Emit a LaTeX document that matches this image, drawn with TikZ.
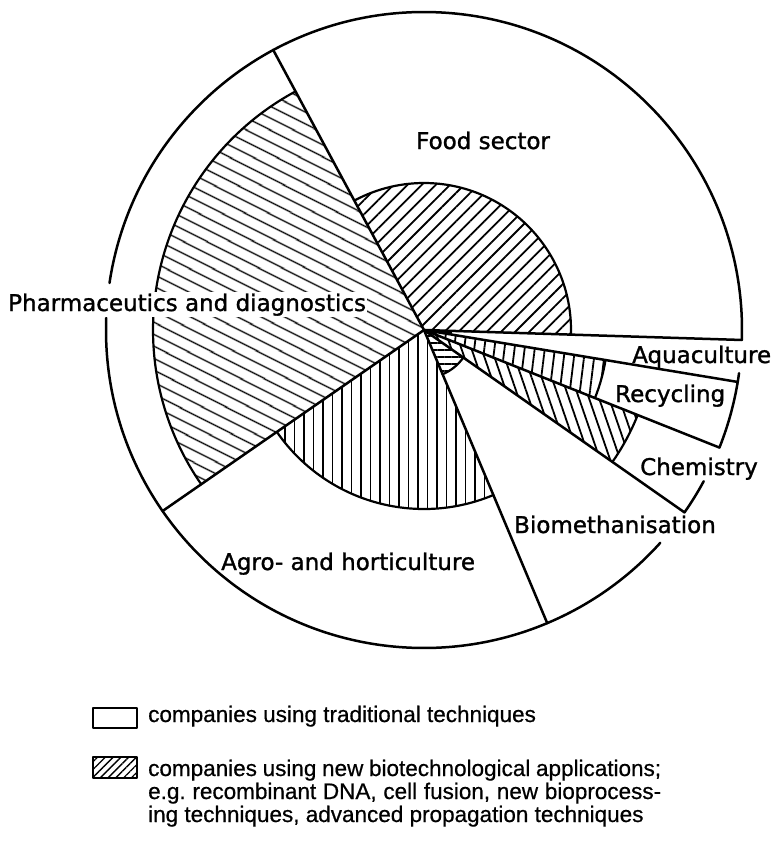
\documentclass[tikz,border=0pt]{standalone}
\usepackage{fontspec}
\setmainfont{DejaVu Sans}
\newfontfamily\lblfont[FakeBold=1.3]{DejaVu Sans}
\newfontfamily\legendfont[FakeBold=0.6]{Liberation Sans}
\usetikzlibrary{patterns.meta,calc}
\newcommand\hsector[4]{%
  \fill[pattern={#4}] (C) -- ($(C)+(#1:#3pt)$) arc[start angle=#1, end angle=#2, radius=#3pt] -- cycle;
  \draw[hatchline] ($(C)+(#1:#3pt)$) arc[start angle=#1, end angle=#2, radius=#3pt];
}
\begin{document}
\begin{tikzpicture}[x=1pt,y=1pt, line join=round, line cap=round,
  bd/.style={line width=2.5pt},
  hatchline/.style={line width=2.2pt},
  lbl/.style={inner sep=0pt, anchor=base west, font=\lblfont\fontsize{23}{27}\selectfont},
  leg/.style={inner sep=0pt, anchor=base west, font=\legendfont\fontsize{22.5}{27}\selectfont\frenchspacing}]
\useasboundingbox (0,0) rectangle (774,-847);
\fill[white] (0,0) rectangle (774,-847);
\coordinate (C) at (424,-330);
\def\R{318}
% inner hatched sectors
\hsector{-1.8}{118.3}{147}{Lines[angle=45,distance=10pt,line width=1.8pt]}
\hsector{118.3}{214.7}{271}{Lines[angle=-27,distance=10.5pt,line width=1.8pt]}
\hsector{214.7}{292.8}{179}{Lines[angle=90,distance=9.5pt,line width=1.8pt]}
\hsector{292.8}{325}{48}{Lines[angle=0,distance=7pt,line width=1.8pt]}
\hsector{325}{338.3}{230}{Lines[angle=109,distance=9.5pt,line width=1.8pt]}
\hsector{338.3}{350.6}{184}{Lines[angle=83,distance=10pt,line width=1.8pt]}
\fill (C) -- ($(C)+(350.6:28pt)$) arc[start angle=350.6, end angle=358.2, radius=28pt] -- cycle;
% outer arcs (with gaps behind the labels)
\draw[bd] ($(C)+(-1.8:\R pt)$) arc[start angle=-1.8, end angle=171.5, radius=\R pt];
\draw[bd] ($(C)+(177.8:\R pt)$) arc[start angle=177.8, end angle=318, radius=\R pt];
\draw[bd] ($(C)+(325:\R pt)$) arc[start angle=325, end angle=331.6, radius=\R pt];
\draw[bd] ($(C)+(338.3:\R pt)$) arc[start angle=338.3, end angle=352.2, radius=\R pt];
% radial boundaries
\foreach \a/\n in {118.3/b1, -1.8/b2, -9.4/b3, -21.7/b4, -35/b5, -67.2/b6, 214.7/b7}{
  \coordinate (\n) at ($(C)+(\a:\R pt)$);
  \draw[bd] (C) -- (\n);
}
% labels
\node[lbl] (food) at (416,-149) {Food sector};
\node[lbl, fill=white, inner sep=1.5pt] (pharma) at (6.5,-311) {Pharmaceutics and diagnostics};
\node[lbl] (aqua) at (632,-363) {Aquaculture};
\node[lbl] (recyc) at (615,-402) {Recycling};
\node[lbl] (chem) at (640,-475) {Chemistry};
\node[lbl] (bio) at (514,-533) {Biomethanisation};
\node[lbl] (agro) at (221,-570) {Agro- and horticulture};
% legend
\draw[line width=2.2pt] (93,-708) rectangle (137,-728);
\fill[pattern={Lines[angle=45,distance=5.5pt,line width=1.3pt]}] (93,-757) rectangle (137,-778);
\draw[line width=2.2pt] (93,-757) rectangle (137,-778);
\node[leg] (l1) at (148,-722) {companies using traditional techniques};
\node[leg] (l2) at (148,-776) {\makebox[513pt][s]{companies using new biotechnological applications;}};
\node[leg] (l3) at (148,-799) {\makebox[513pt][s]{e.g. recombinant DNA, cell fusion, new bioprocess-}};
\node[leg] (l4) at (148,-822) {ing techniques, advanced propagation techniques};
\end{tikzpicture}
\end{document}
